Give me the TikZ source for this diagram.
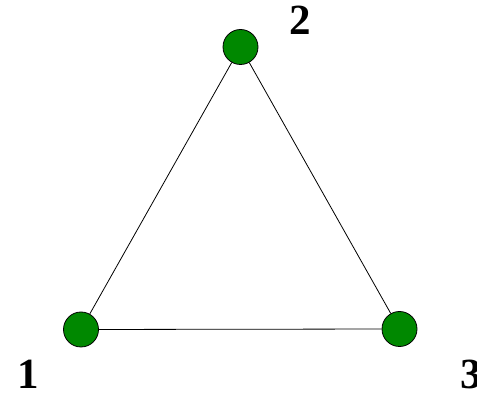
\documentclass[tikz,border=0pt]{standalone}
\usepackage{fontspec}
\setmainfont{Liberation Serif}
\definecolor{nodegreen}{RGB}{0,136,0}
\begin{document}
\begin{tikzpicture}[x=1pt,y=-1pt,
  vert/.style={circle,draw=black,line width=0.8pt,fill=nodegreen,minimum size=35pt,inner sep=0pt},
  lab/.style={anchor=base,inner sep=0pt,text depth=0pt,font=\fontsize{43}{43}\selectfont\bfseries},
  edge/.style={draw=black,line width=0.8pt}]
\useasboundingbox (0,0) rectangle (477,395);
\node[vert] (n2) at (240.5,47) {};
\node[vert] (n1) at (81,329.5) {};
\node[vert] (n3) at (399.5,329) {};
\draw[edge] (n1) -- (n2);
\draw[edge] (n2) -- (n3);
\draw[edge] (n1) -- (n3);
\node[lab] (l2) at (300.5,35) {2};
\node[lab] (l1) at (28.5,389) {1};
\node[lab] (l3) at (471,389) {3};
\end{tikzpicture}
\end{document}
